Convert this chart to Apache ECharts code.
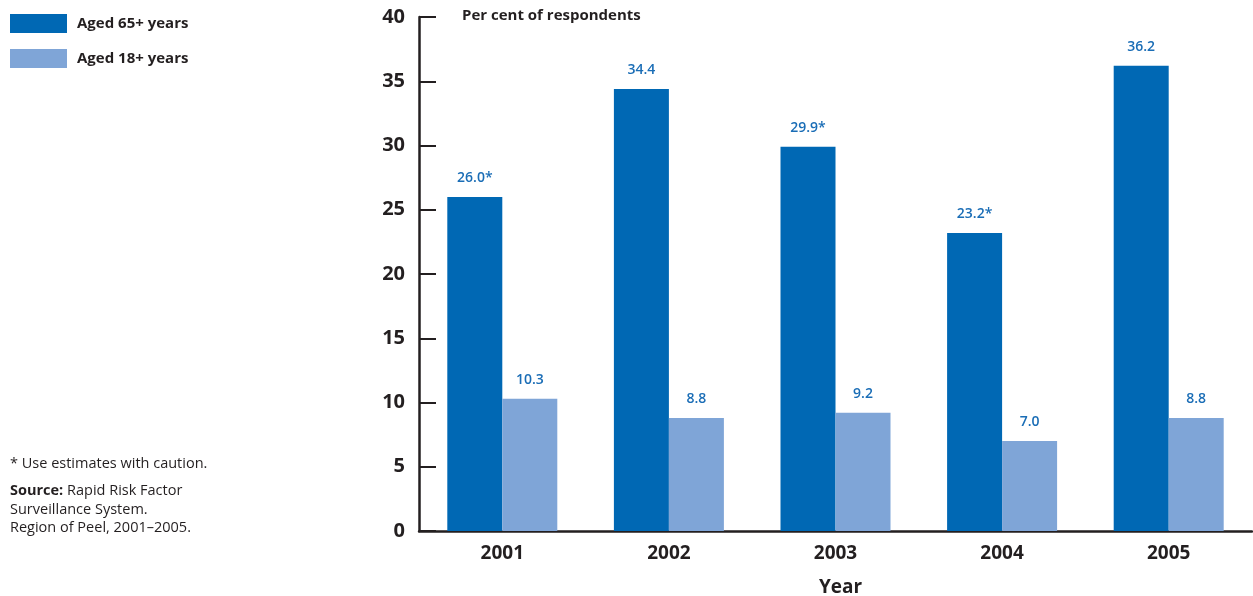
<!DOCTYPE html>
<html>
<head>
<meta charset="utf-8">
<script src="https://cdn.jsdelivr.net/npm/echarts@6/dist/echarts.min.js"></script>
<style>
  html, body { margin: 0; padding: 0; background: #fff; }
  #chart { width: 1253px; height: 596px; }
</style>
</head>
<body>
<div id="chart"></div>
<script>
// Chart data
const years = ['2001', '2002', '2003', '2004', '2005'];
const aged65 = [26.0, 34.4, 29.9, 23.2, 36.2];
const aged18 = [10.3, 8.8, 9.2, 7.0, 8.8];
// Estimates flagged for caution (shown with an asterisk)
const aged65Caution = [true, false, true, true, false];
const aged18Caution = [false, false, false, false, false];
const seriesNames = ['Aged 65+ years', 'Aged 18+ years'];

const DARK = '#0068b4';
const LIGHT = '#7fa5d7';
const INK = '#231f20';
const LABEL_BLUE = '#1a6db6';
const FONT = '"Open Sans", "Noto Sans", sans-serif';

function labelFor(flags) {
  return {
    show: true,
    position: 'top',
    distance: 12,
    color: LABEL_BLUE,
    fontFamily: FONT,
    fontWeight: 600,
    fontSize: 14,
    formatter: p => p.value.toFixed(1) + (flags[p.dataIndex] ? '*' : '')
  };
}

const chart = echarts.init(document.getElementById('chart'), null, { renderer: 'canvas' });
chart.setOption({
  animation: false,
  textStyle: { fontFamily: FONT },
  legend: {
    orient: 'vertical',
    left: 10,
    top: 14,
    padding: 0,
    itemWidth: 57,
    itemHeight: 19,
    itemGap: 16,
    icon: 'rect',
    selectedMode: false,
    textStyle: { color: INK, fontFamily: FONT, fontWeight: 'bold', fontSize: 15, padding: [0, 0, 0, 5] },
    data: seriesNames
  },
  grid: { left: 419, right: 1, top: 17, bottom: 65, containLabel: false },
  xAxis: {
    type: 'category',
    data: years,
    axisLine: { lineStyle: { color: INK, width: 2.5 } },
    axisTick: { inside: true, length: 12, lineStyle: { color: INK, width: 2 } },
    axisLabel: { margin: 13, color: INK, fontFamily: FONT, fontWeight: 'bold', fontSize: 19 }
  },
  yAxis: {
    type: 'value',
    min: 0,
    max: 40,
    interval: 5,
    splitLine: { show: false },
    axisLine: { show: true, lineStyle: { color: INK, width: 2.5 } },
    axisTick: { show: true, inside: true, length: 17, lineStyle: { color: INK, width: 2 } },
    axisLabel: { margin: 14, color: INK, fontFamily: FONT, fontWeight: 'bold', fontSize: 20 }
  },
  series: [
    {
      name: seriesNames[0],
      type: 'bar',
      data: aged65,
      barWidth: 55,
      barGap: '0%',
      itemStyle: { color: DARK },
      label: labelFor(aged65Caution)
    },
    {
      name: seriesNames[1],
      type: 'bar',
      data: aged18,
      barWidth: 55,
      barGap: '0%',
      itemStyle: { color: LIGHT },
      label: labelFor(aged18Caution)
    }
  ],
  graphic: [
    {
      type: 'text', left: 462, top: 8,
      style: { text: 'Per cent of respondents', fill: INK, font: 'bold 15px ' + FONT }
    },
    {
      type: 'text', left: 819, top: 578,
      style: { text: 'Year', fill: INK, font: 'bold 19px ' + FONT }
    },
    {
      type: 'text', left: 10, top: 456,
      style: { text: '* Use estimates with caution.', fill: INK, font: '14.5px ' + FONT }
    },
    {
      type: 'text', left: 10, top: 482,
      style: {
        text: '{b|Source:} Rapid Risk Factor\nSurveillance System.\nRegion of Peel, 2001–2005.',
        fill: INK,
        font: '14.5px ' + FONT,
        lineHeight: 18.5,
        rich: { b: { fontWeight: 'bold', fontSize: 14.5, fontFamily: FONT, fill: INK, lineHeight: 18.5 } }
      }
    }
  ]
});
</script>
</body>
</html>
